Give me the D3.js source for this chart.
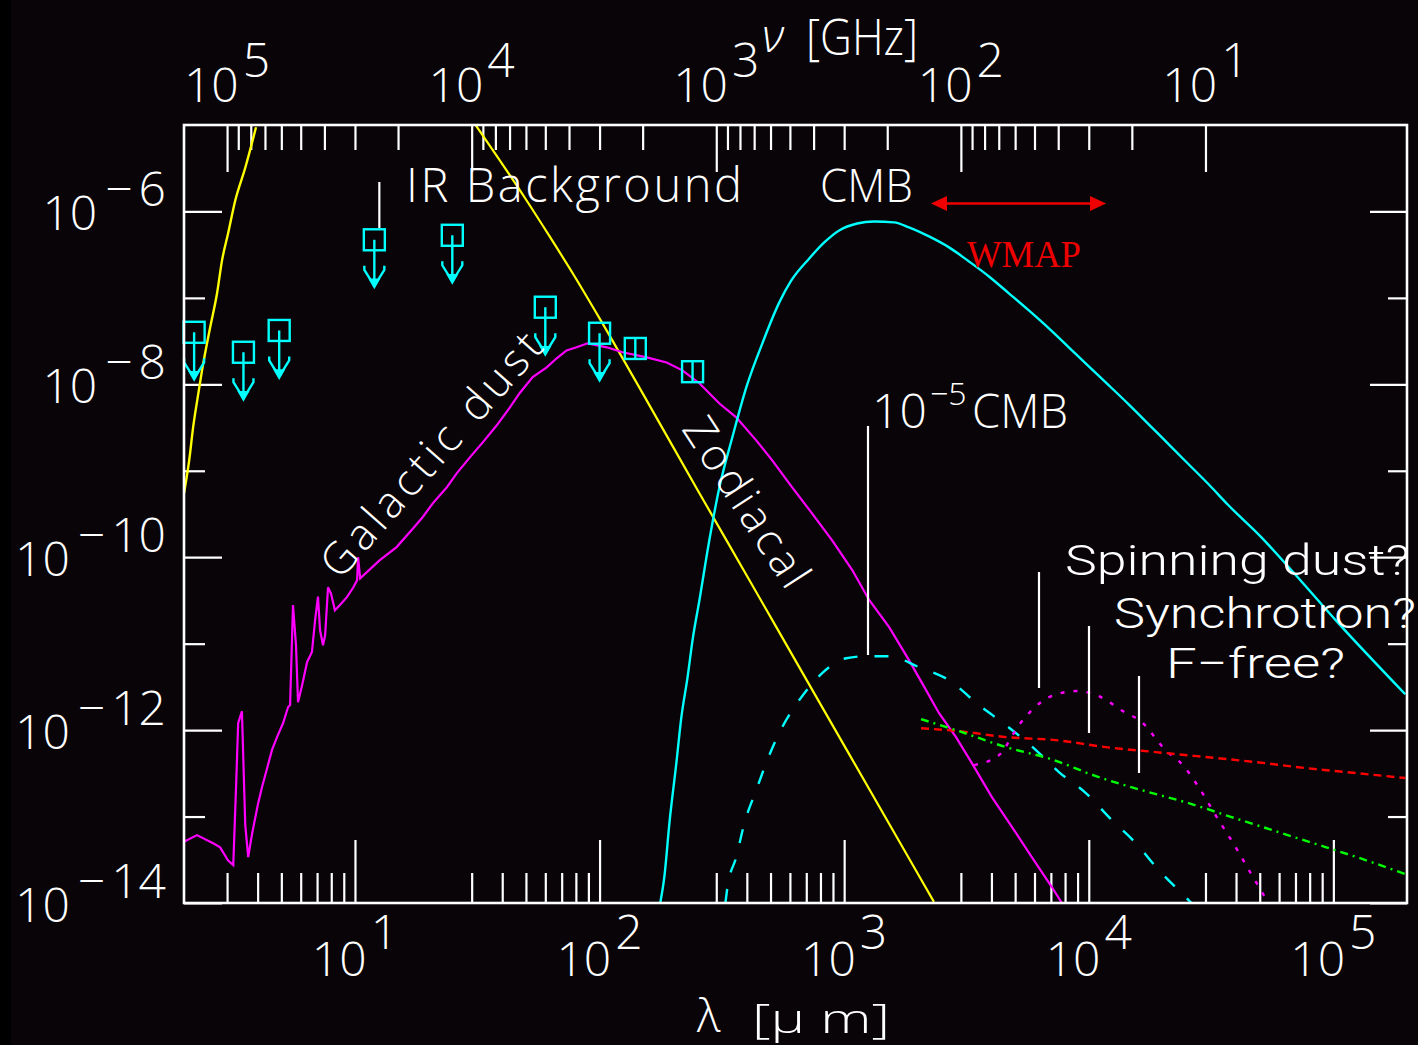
<!DOCTYPE html>
<html><head><meta charset="utf-8">
<script src="https://cdn.jsdelivr.net/npm/d3@7"></script>
<style>
html,body{margin:0;padding:0;background:#000;}
svg{display:block;}
</style></head><body>
<svg id="chart" width="1418" height="1045"></svg>
<script>
// ---------------- data (λ in µm, νIν values) ----------------
const stellarLambda = [2.00, 2.10, 2.18, 2.29, 2.37, 2.56, 2.73, 2.86, 3.03, 3.24, 3.56, 3.94];
const stellarValue  = [5.5e-10, 1.32e-9, 3.2e-9, 7.9e-9, 1.45e-8, 4.6e-8, 1.13e-7, 2.7e-7, 5.6e-7, 1.34e-6, 3.2e-6, 9.4e-6];

const zodiLambda = [31.2, 39.1, 49.4, 62.5, 79.1, 100, 160, 256, 410, 655, 1048, 1676, 2328];
const zodiValue  = [9.9e-6, 3.89e-6, 1.45e-6, 5.14e-7, 1.77e-7, 5.80e-8, 5.71e-9, 5.50e-10, 5.42e-11, 5.35e-12, 5.28e-13, 5.21e-14, 1.03e-14];

const dustLambda = [2.00, 2.26, 2.63, 2.81, 3.03, 3.18, 3.27, 3.33, 3.45, 3.56, 3.66, 3.80, 3.91, 4.02, 4.17, 4.37, 4.58, 4.80, 5.08, 5.33,
  5.43, 5.58, 5.74, 5.85, 6.08, 6.37, 6.67, 6.87, 7.06, 7.20, 7.40, 7.55, 7.76, 7.98, 8.28, 8.68, 9.27, 9.81, 10.2, 10.3, 10.5,
  12.6, 14.8, 17.3, 18.9, 20.8, 23.7, 26.1, 29.5, 33.3, 38.0, 43.0, 47.1, 53.3, 60.8, 66.8, 73.3, 80.5, 89.3, 107, 124, 156, 188,
  218, 256, 309, 362, 437, 508, 614, 740, 893, 1079, 1265, 1527, 1841, 2162, 2443, 2866, 3327, 4018, 4850, 5850, 7063, 7762];
const dustValue = [5.1e-14, 6.1e-14, 4.9e-14, 4.4e-14, 3.1e-14, 2.75e-14, 2.5e-13, 1.2e-12, 1.65e-12, 8.0e-14, 3.4e-14, 6.4e-14, 9.6e-14,
  1.43e-13, 2.2e-13, 3.6e-13, 5.9e-13, 8.3e-13, 1.2e-12, 1.85e-12,
  1.95e-12, 2.8e-11, 9.6e-12, 2.1e-12, 3.3e-12, 6.1e-12, 8.0e-12, 1.87e-11, 3.5e-11, 1.43e-11, 9.6e-12, 1.25e-11, 4.5e-11, 3.8e-11,
  2.44e-11, 2.8e-11, 3.45e-11, 4.4e-11, 5.4e-11, 1.0e-10, 5.7e-11,
  9.2e-11, 1.31e-10, 2.16e-10, 2.9e-10, 4.2e-10, 6.4e-10, 9.4e-10, 1.43e-9, 2.13e-9, 3.36e-9, 5.4e-9, 7.9e-9, 1.21e-8, 1.57e-8,
  2.0e-8, 2.47e-8, 2.68e-8, 2.98e-8, 2.68e-8, 2.35e-8, 2.05e-8, 1.79e-8,
  1.45e-8, 1.03e-8, 6.0e-9, 4.15e-9, 2.25e-9, 1.32e-9, 6.4e-10, 3.2e-10, 1.57e-10, 7.1e-11, 3.2e-11, 1.55e-11, 6.45e-12, 2.9e-12,
  1.57e-12, 8.3e-13, 4.15e-13, 1.68e-13, 7.6e-14, 3.4e-14, 1.53e-14, 1.0e-14];

const cmbLambda = [177, 184, 193, 206, 216, 229, 240, 256, 281, 309, 349, 398, 463, 543, 608, 720, 829, 954, 1130, 1325, 1600, 1841,
  2223, 2684, 3237, 3908, 4713, 5689, 6871, 8285, 10000, 12080, 14560, 17580, 21230, 25590, 30900, 37240, 50800, 67400, 104800, 196800];
const cmbValue = [1.0e-14, 2.0e-14, 8.4e-14, 4.15e-13, 1.41e-12, 4.1e-12, 1.1e-11, 3.18e-11, 1.57e-10, 6.44e-10, 2.44e-9, 9.23e-9,
  2.98e-8, 8.87e-8, 1.59e-7, 2.86e-7, 4.38e-7, 6.03e-7, 7.26e-7, 7.66e-7, 7.47e-7, 6.53e-7, 5.14e-7, 3.84e-7, 2.64e-7, 1.77e-7,
  1.13e-7, 7.16e-8, 4.44e-8, 2.68e-8, 1.61e-8, 9.73e-9, 5.87e-9, 3.45e-9, 2.02e-9, 1.19e-9, 6.98e-10, 3.99e-10, 1.70e-10, 7.08e-11,
  1.73e-11, 2.6e-12];

const cmbAnisoLambda = [327, 333, 362, 391, 437, 485, 558, 655, 813, 1019, 1230, 1527, 2024, 2684, 3556, 4585, 6081, 7551, 9727,
  12420, 15560, 19320, 24890, 26300];
const cmbAnisoValue = [1.0e-14, 1.49e-14, 3.4e-14, 8.4e-14, 2.02e-13, 4.5e-13, 1.08e-12, 2.22e-12, 4.56e-12, 6.79e-12, 7.16e-12,
  7.16e-12, 5.35e-12, 3.78e-12, 1.95e-12, 1.14e-12, 5.87e-13, 3.27e-13, 1.87e-13, 9.12e-14, 4.94e-14, 2.41e-14, 1.17e-14, 1.0e-14];

const spinLambda = [3394, 4295, 5178, 5968, 7194, 8935, 10990, 13770, 16450, 20420, 24430, 28130, 32990, 39810, 47150, 54290];
const spinValue  = [3.94e-13, 5.14e-13, 1.14e-12, 1.80e-12, 2.54e-12, 2.83e-12, 2.47e-12, 1.66e-12, 1.24e-12, 6.03e-13, 3.84e-13,
  2.19e-13, 1.04e-13, 4.44e-14, 1.95e-14, 1.0e-14];

const synchLambda = [2061, 2946, 4585, 7331, 11730, 18750, 30060, 48080, 76900, 123000, 196800];
const synchValue  = [1.05e-12, 9.73e-13, 8.30e-13, 7.66e-13, 6.36e-13, 5.57e-13, 4.88e-13, 4.27e-13, 3.64e-13, 3.19e-13, 2.79e-13];

const ffLambda = [2061, 2946, 4585, 6998, 10690, 16450, 25590, 38370, 61380, 92750, 142900, 196800];
const ffValue  = [1.34e-12, 9.73e-13, 6.36e-13, 4.62e-13, 2.94e-13, 2.02e-13, 1.43e-13, 9.86e-14, 6.44e-14, 4.44e-14, 2.98e-14, 2.16e-14];

const irLambda = [2.2, 3.5, 4.9, 12, 25, 60, 100, 140, 240];
const irValue  = [4.0e-8, 2.35e-8, 4.2e-8, 4.7e-7, 5.3e-7, 7.8e-8, 3.9e-8, 2.6e-8, 1.4e-8];
const irUpperLimit = [true, true, true, true, true, true, true, false, false];

// axis ticks / labels
const lamDecades = [10, 100, 1000, 10000, 100000];
const lamLabelExp = [1, 2, 3, 4, 5];
const nuDecades = [1e5, 1e4, 1e3, 1e2, 1e1];
const nuLabelExp = [5, 4, 3, 2, 1];
const yMajor = [1e-14, 1e-12, 1e-10, 1e-8, 1e-6];
const yMinor = [1e-13, 1e-11, 1e-9, 1e-7];
const yLabelExp = [-14, -12, -10, -8, -6];

// ---------------- drawing ----------------
const W = 1418, H = 1045;
const FONT = "'Open Sans','DejaVu Sans',sans-serif";
const FONT2 = "Roboto,'Open Sans',sans-serif";
const svg = d3.select("#chart");
svg.append("rect").attr("x", 11).attr("y", 0).attr("width", W - 11).attr("height", H).attr("fill", "#080408");

const x = d3.scaleLog().domain([2, 2e5]).range([184, 1407]);
const y = d3.scaleLog().domain([1e-14, 1e-5]).range([903, 125]);
const C_UM_GHZ = 3e5; // ν[GHz] = 3e5 / λ[µm]
const xNu = d3.scaleLog().domain([C_UM_GHZ / 2, C_UM_GHZ / 2e5]).range([184, 1407]);

const lamMinor = [];
[1, 10, 100, 1000, 10000].forEach(d => { for (let m = 3; m <= 9; m++) lamMinor.push(m * d); });
const nuMinor = [];
[10, 100, 1000, 10000].forEach(d => { for (let m = 2; m <= 9; m++) nuMinor.push(m * d); });

function styleAxis(g) {
  g.select(".domain").remove();
  g.selectAll("text").remove();
  g.selectAll(".tick line").attr("stroke", "#fff").attr("stroke-width", 2.2);
}
const axes = svg.append("g");
axes.append("g").attr("transform", "translate(0,903)").call(d3.axisBottom(x).tickValues(lamDecades).tickSize(-63).tickFormat("")).call(styleAxis);
axes.append("g").attr("transform", "translate(0,903)").call(d3.axisBottom(x).tickValues(lamMinor).tickSize(-30).tickFormat("")).call(styleAxis);
axes.append("g").attr("transform", "translate(0,125)").call(d3.axisTop(xNu).tickValues(nuDecades).tickSize(-47).tickFormat("")).call(styleAxis);
axes.append("g").attr("transform", "translate(0,125)").call(d3.axisTop(xNu).tickValues(nuMinor).tickSize(-25).tickFormat("")).call(styleAxis);
axes.append("g").attr("transform", "translate(184,0)").call(d3.axisLeft(y).tickValues(yMajor).tickSize(-38).tickFormat("")).call(styleAxis);
axes.append("g").attr("transform", "translate(184,0)").call(d3.axisLeft(y).tickValues(yMinor).tickSize(-21).tickFormat("")).call(styleAxis);
axes.append("g").attr("transform", "translate(1407,0)").call(d3.axisRight(y).tickValues(yMajor).tickSize(-37).tickFormat("")).call(styleAxis);
axes.append("g").attr("transform", "translate(1407,0)").call(d3.axisRight(y).tickValues(yMinor).tickSize(-19).tickFormat("")).call(styleAxis);

// curves
svg.append("clipPath").attr("id", "plotclip").append("rect").attr("x", 184).attr("y", 125).attr("width", 1223).attr("height", 778);
const plot = svg.append("g").attr("clip-path", "url(#plotclip)");
const zip = (a, b) => a.map((v, i) => [v, b[i]]);
const lineLin = d3.line().x(d => x(d[0])).y(d => y(d[1]));
const lineSmooth = d3.line().x(d => x(d[0])).y(d => y(d[1])).curve(d3.curveMonotoneX);
const series = [
  {lam: stellarLambda, val: stellarValue, color: "#ffff00", w: 2.4, dash: null, gen: lineSmooth},
  {lam: zodiLambda, val: zodiValue, color: "#ffff00", w: 2.2, dash: null, gen: lineSmooth},
  {lam: dustLambda, val: dustValue, color: "#ff00ff", w: 2.2, dash: null, gen: lineLin},
  {lam: cmbLambda, val: cmbValue, color: "#00ffff", w: 2.4, dash: null, gen: lineSmooth},
  {lam: cmbAnisoLambda, val: cmbAnisoValue, color: "#00ffff", w: 2.4, dash: "14,17", gen: lineSmooth},
  {lam: spinLambda, val: spinValue, color: "#ff00ff", w: 2.4, dash: "4,9", gen: lineSmooth},
  {lam: synchLambda, val: synchValue, color: "#ff0000", w: 2.4, dash: "8,5", gen: lineSmooth},
  {lam: ffLambda, val: ffValue, color: "#00ff00", w: 2.4, dash: "8,5,2,5", gen: lineSmooth}
];
series.forEach(s => {
  plot.append("path").datum(zip(s.lam, s.val)).attr("d", s.gen).attr("fill", "none")
    .attr("stroke", s.color).attr("stroke-width", s.w).attr("stroke-dasharray", s.dash);
});

// IR background points / upper limits
const ir = svg.append("g").attr("stroke", "#00ffff").attr("fill", "none").attr("stroke-width", 2.4);
irLambda.forEach((l, i) => {
  const cx = x(l), cy = y(irValue[i]);
  ir.append("rect").attr("x", cx - 10.5).attr("y", cy - 10.5).attr("width", 21).attr("height", 21);
  if (irUpperLimit[i]) {
    ir.append("line").attr("x1", cx).attr("y1", cy).attr("x2", cx).attr("y2", cy + 46);
    ir.append("path").attr("d", `M${cx - 10},${cy + 26} L${cx - 10},${cy + 30} L${cx},${cy + 46} L${cx + 10},${cy + 30} L${cx + 10},${cy + 26}`);
    ir.append("path").attr("d", `M${cx - 4},${cy + 40} L${cx + 4},${cy + 40} L${cx},${cy + 47} Z`).attr("fill", "#00ffff");
  } else {
    ir.append("line").attr("x1", cx).attr("y1", cy - 10.5).attr("x2", cx).attr("y2", cy + 10.5);
  }
});

// frame
svg.append("rect").attr("x", 184).attr("y", 125).attr("width", 1223).attr("height", 778)
  .attr("fill", "none").attr("stroke", "#fff").attr("stroke-width", 2.6);

// tick labels
function txt(parent, s, px, py, size, anchor, fam) {
  return parent.append("text").attr("x", px).attr("y", py).attr("fill", "#fff")
    .attr("font-family", fam || FONT).attr("font-weight", 300).attr("font-size", size)
    .attr("text-anchor", anchor || "start").text(s);
}
const labels = svg.append("g");
yMajor.forEach((v, i) => {
  const t = labels.append("text").attr("x", 166).attr("y", y(v) + 19).attr("fill", "#fff")
    .attr("font-family", FONT).attr("font-weight", 300).attr("font-size", 48).attr("text-anchor", "end");
  t.append("tspan").text("10");
  t.append("tspan").attr("dx", 8).attr("dy", -24).text("\u2212");
  t.append("tspan").attr("dx", 6).text(String(Math.abs(yLabelExp[i])));
});
nuDecades.forEach((v, i) => {
  const t = labels.append("text").attr("x", xNu(v)).attr("y", 102).attr("fill", "#fff")
    .attr("font-family", FONT).attr("font-weight", 300).attr("font-size", 48).attr("text-anchor", "middle");
  t.append("tspan").text("10");
  t.append("tspan").attr("dx", 4).attr("dy", -25).text(String(nuLabelExp[i]));
});
lamDecades.forEach((v, i) => {
  const t = labels.append("text").attr("x", x(v)).attr("y", 976).attr("fill", "#fff")
    .attr("font-family", FONT).attr("font-weight", 300).attr("font-size", 48).attr("text-anchor", "middle");
  t.append("tspan").text("10");
  t.append("tspan").attr("dx", 4).attr("dy", -27).text(String(lamLabelExp[i]));
});

// axis titles
txt(labels, "\u03bd", 762, 52, 46).attr("font-style", "italic");
txt(labels, "[GHz]", 806, 55, 50).attr("textLength", 112).attr("lengthAdjust", "spacingAndGlyphs");
txt(labels, "\u03bb", 697, 1032, 46);
txt(labels, "[\u03bc m]", 752, 1033, 40).attr("textLength", 138).attr("lengthAdjust", "spacingAndGlyphs");

// annotations
const ann = svg.append("g");
const wl = (x1, y1, x2, y2) => ann.append("line").attr("x1", x1).attr("y1", y1).attr("x2", x2).attr("y2", y2)
  .attr("stroke", "#fff").attr("stroke-width", 2.2);
txt(ann, "IR Background", 406, 202, 47).attr("textLength", 336).attr("lengthAdjust", "spacing");
wl(x(irLambda[3]) + 5, 182, x(irLambda[3]) + 5, 228);
txt(ann, "CMB", 820, 202, 46).attr("textLength", 93).attr("lengthAdjust", "spacingAndGlyphs");

// WMAP arrow
const red = "#ee0000";
ann.append("line").attr("x1", 945).attr("y1", 203.5).attr("x2", 1092).attr("y2", 203.5).attr("stroke", red).attr("stroke-width", 2.6);
ann.append("path").attr("d", "M931,203.5 L947,196 L947,211 Z").attr("fill", red);
ann.append("path").attr("d", "M1106,203.5 L1090,196 L1090,211 Z").attr("fill", red);
ann.append("text").attr("x", 967).attr("y", 267).attr("fill", red).attr("font-family", "'Liberation Serif','Times New Roman',serif")
  .attr("font-size", 38).attr("textLength", 114).attr("lengthAdjust", "spacingAndGlyphs").text("WMAP");

// 10^-5 CMB
{
  const t = ann.append("text").attr("y", 428).attr("fill", "#fff").attr("font-family", FONT).attr("font-weight", 300).attr("font-size", 48);
  t.append("tspan").attr("x", 872).text("10");
  t.append("tspan").attr("x", 930).attr("dy", -23).attr("font-size", 32).text("\u22125");
  t.append("tspan").attr("x", 972).attr("dy", 23).attr("textLength", 96).attr("lengthAdjust", "spacingAndGlyphs").text("CMB");
}
wl(868, 426, 868, 655);

txt(ann, "Spinning dust?", 1065, 575, 43, "start", FONT2).attr("textLength", 345).attr("lengthAdjust", "spacingAndGlyphs");
txt(ann, "Synchrotron?", 1114, 628, 43, "start", FONT2).attr("textLength", 302).attr("lengthAdjust", "spacingAndGlyphs");
txt(ann, "F\u2212free?", 1166, 678, 42, "start", FONT2).attr("textLength", 179).attr("lengthAdjust", "spacingAndGlyphs");
wl(1039, 572, 1039, 688);
wl(1089, 626, 1089, 733);
wl(1139, 676, 1139, 773);

// rotated labels
ann.append("text").attr("transform", "translate(340,581) rotate(-48.6)").attr("fill", "#fff")
  .attr("font-family", FONT).attr("font-weight", 300).attr("font-size", 44)
  .attr("textLength", 310).attr("lengthAdjust", "spacing").text("Galactic dust");
ann.append("text").attr("transform", "translate(681,429) rotate(57)").attr("fill", "#fff")
  .attr("font-family", FONT).attr("font-weight", 300).attr("font-size", 44)
  .attr("textLength", 194).attr("lengthAdjust", "spacing").text("Zodiacal");
</script>
</body></html>
